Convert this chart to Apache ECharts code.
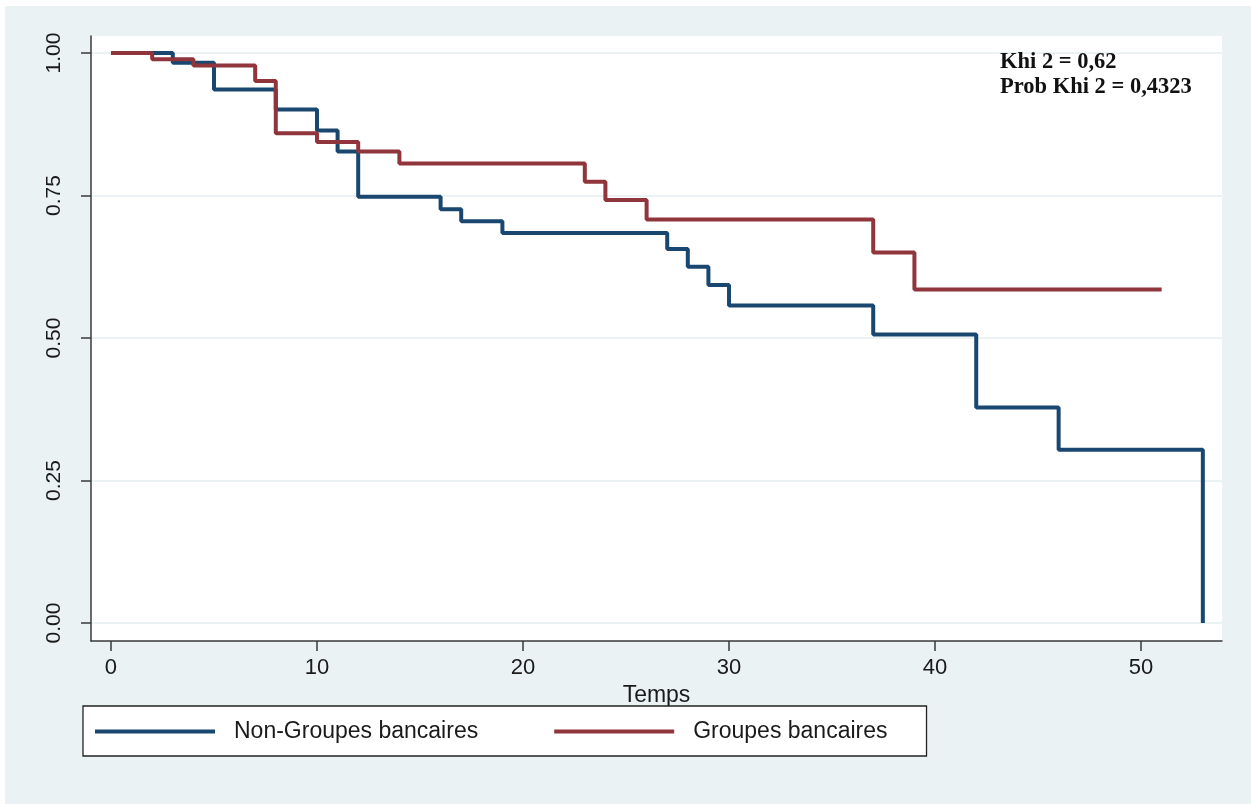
<!DOCTYPE html>
<html>
<head>
<meta charset="utf-8">
<title>Courbes de survie</title>
<script src="https://cdn.jsdelivr.net/npm/echarts@6/dist/echarts.min.js"></script>
<style>
  html, body { margin: 0; padding: 0; background: #ffffff; }
  #chart { width: 1251px; height: 804px; }
</style>
</head>
<body>
<div id="chart"></div>
<script>
// Kaplan-Meier estimates: time of each step and survival after it
const nonGroupesTimes = [0, 3, 5, 8, 10, 11, 12, 16, 17, 19, 27, 28, 29, 30, 37, 42, 46, 53];
const nonGroupesSurv  = [1.0, 0.983, 0.936, 0.901, 0.864, 0.827, 0.748, 0.726, 0.705, 0.684, 0.656, 0.625, 0.593, 0.557, 0.506, 0.378, 0.304, 0.0];

const groupesTimes = [0, 2, 4, 7, 8, 10, 12, 14, 23, 24, 26, 37, 39, 51];
const groupesSurv  = [1.0, 0.989, 0.978, 0.951, 0.859, 0.844, 0.827, 0.806, 0.774, 0.742, 0.708, 0.650, 0.585, 0.585];

const seriesNames = ['Non-Groupes bancaires', 'Groupes bancaires'];
const xTicks = [0, 10, 20, 30, 40, 50];
const yTicks = [0, 0.25, 0.5, 0.75, 1.0];
const testLines = ['Khi 2 = 0,62', 'Prob Khi 2 = 0,4323'];

const toPairs = (ts, vs) => ts.map((t, i) => [t, vs[i]]);

const NAVY = '#1a476f';
const MAROON = '#90353b';
const BG = '#eaf2f3';
const AXIS = '#3a3a3a';
const FONT = '"Liberation Sans", Arial, sans-serif';
const SERIF_BOLD = 'bold 22.5px "Liberation Serif", "Times New Roman", serif';

const chart = echarts.init(document.getElementById('chart'), null, { renderer: 'canvas' });

chart.setOption({
  animation: false,
  backgroundColor: '#ffffff',
  graphic: [
    { type: 'rect', z: -10, silent: true,
      shape: { x: 5, y: 6, width: 1246, height: 798 },
      style: { fill: BG } },
    { type: 'text', left: 1000, top: 51, z: 10,
      style: { text: testLines[0], font: SERIF_BOLD, fill: '#111' } },
    { type: 'text', left: 1000, top: 76, z: 10,
      style: { text: testLines[1], font: SERIF_BOLD, fill: '#111' } }
  ],
  grid: {
    left: 91, right: 29, top: 36, bottom: 163,
    show: true, backgroundColor: '#ffffff', borderWidth: 0
  },
  legend: {
    left: 83, top: 706,
    orient: 'horizontal',
    backgroundColor: '#ffffff',
    borderColor: '#222',
    borderWidth: 1.3,
    borderRadius: 0,
    padding: [14, 39, 13, 12],
    icon: 'rect',
    itemWidth: 120,
    itemHeight: 4,
    itemGap: 76,
    textStyle: { fontFamily: FONT, fontSize: 23, color: '#1a1a1a', padding: [0, 0, 0, 14] },
    data: seriesNames
  },
  xAxis: {
    type: 'value',
    min: -0.97, max: 53.93,
    name: 'Temps',
    nameLocation: 'middle',
    nameGap: 37,
    nameTextStyle: { fontFamily: FONT, fontSize: 23, color: '#1a1a1a' },
    axisLine: { show: true, onZero: false, lineStyle: { color: AXIS, width: 1.5 } },
    axisTick: { show: true, length: 10, lineStyle: { color: AXIS, width: 1.5 }, customValues: xTicks },
    axisLabel: { fontFamily: FONT, fontSize: 22, color: '#1a1a1a', margin: 16, customValues: xTicks },
    splitLine: { show: false }
  },
  yAxis: {
    type: 'value',
    min: -0.0316, max: 1.0298,
    axisLine: { show: true, onZero: false, lineStyle: { color: AXIS, width: 1.5 } },
    axisTick: { show: true, length: 10, lineStyle: { color: AXIS, width: 1.5 }, customValues: yTicks },
    axisLabel: {
      fontFamily: FONT, fontSize: 21, color: '#1a1a1a', margin: 26, rotate: 90,
      customValues: yTicks,
      formatter: v => v.toFixed(2)
    },
    splitLine: { show: true, lineStyle: { color: BG, width: 2 } }
  },
  series: [
    {
      name: seriesNames[0], type: 'line', step: 'end', symbol: 'none',
      lineStyle: { color: NAVY, width: 4 }, itemStyle: { color: NAVY },
      data: toPairs(nonGroupesTimes, nonGroupesSurv), z: 3
    },
    {
      name: seriesNames[1], type: 'line', step: 'end', symbol: 'none',
      lineStyle: { color: MAROON, width: 4 }, itemStyle: { color: MAROON },
      data: toPairs(groupesTimes, groupesSurv), z: 4
    }
  ]
});
</script>
</body>
</html>
